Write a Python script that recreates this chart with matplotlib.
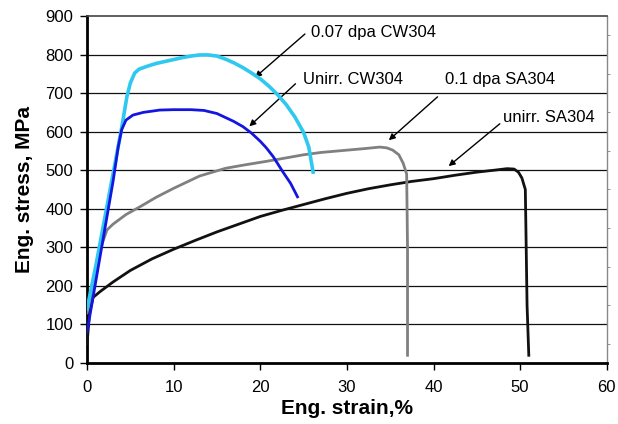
import matplotlib
matplotlib.use("Agg")
import matplotlib.pyplot as plt
from matplotlib.ticker import MultipleLocator

plt.rcParams['font.family'] = ['Liberation Sans', 'DejaVu Sans']

# 0.07 dpa CW304
cw_irr_x = [0.0, 1.0, 2.0, 3.0, 4.0, 4.6, 5.0, 5.5, 6.0, 7.0, 8.0, 9.0, 10.0, 11.0, 12.0, 13.0, 14.0, 15.0, 16.0, 17.0, 18.0, 19.0, 20.0, 21.0, 22.0, 23.0, 24.0, 25.0, 25.6, 26.1]
cw_irr_y = [140, 250, 370, 490, 610, 690, 726, 752, 762, 770, 777, 782, 787, 792, 796, 799, 799, 796, 788, 778, 766, 752, 737, 718, 696, 670, 638, 598, 560, 495]
# Unirr. CW304
cw_un_x = [0.0, 1.0, 2.0, 3.0, 3.6, 4.0, 4.5, 5.3, 6.5, 8.4, 10.0, 12.0, 13.5, 15.0, 16.9, 18.0, 19.0, 20.0, 20.7, 21.5, 22.6, 23.5, 24.3]
cw_un_y = [80, 210, 340, 470, 560, 605, 630, 643, 650, 656, 657, 657, 655, 647, 627, 613, 596, 575, 558, 535, 496, 466, 431]
# 0.1 dpa SA304
sa_irr_x = [0.0, 0.5, 1.0, 1.6, 2.3, 3.0, 4.5, 6.1, 8.0, 10.0, 13.0, 16.0, 18.0, 20.7, 23.0, 25.0, 27.0, 30.0, 32.0, 33.8, 34.6, 35.3, 36.0, 36.5, 36.9, 37.0, 37.0]
sa_irr_y = [130, 180, 240, 300, 345, 360, 385, 405, 430, 453, 485, 505, 513, 523, 532, 540, 546, 552, 556, 560, 558, 552, 540, 518, 490, 300, 20]
# unirr. SA304
sa_un_x = [0.0, 0.3, 0.7, 1.5, 3.0, 5.0, 7.5, 10.0, 12.5, 15.0, 17.5, 20.0, 22.5, 25.0, 27.5, 30.0, 32.5, 35.0, 37.5, 40.0, 42.5, 45.0, 47.0, 48.5, 49.3, 49.8, 50.2, 50.6, 50.7, 50.8, 51.0]
sa_un_y = [50, 130, 170, 185, 210, 240, 270, 295, 318, 340, 360, 380, 396, 411, 426, 440, 452, 462, 471, 478, 487, 495, 500, 504, 503, 495, 480, 450, 300, 150, 20]

labels = ['0.07 dpa CW304', 'Unirr. CW304', '0.1 dpa SA304', 'unirr. SA304']
text_pos = [(25.9, 856), (24.9, 734), (41.3, 734), (48.0, 638)]
arrow_tail = [(25.4, 858), (24.3, 729), (40.7, 695), (47.9, 625)]
arrow_head = [(19.15, 736), (18.5, 609), (34.6, 573), (41.5, 506)]

fig = plt.figure(figsize=(6.18, 4.24), dpi=100)
ax = fig.add_axes([0.1408, 0.1439, 0.841, 0.8184])

for y in range(100, 900, 100):
    ax.axhline(y, color='#111111', lw=0.9, zorder=1)

ax.plot(sa_un_x, sa_un_y, color='#111111', lw=2, zorder=3)
ax.plot(sa_irr_x, sa_irr_y, color='#808080', lw=2, zorder=3)
ax.plot(cw_irr_x, cw_irr_y, color='#2ec8f0', lw=2.6, zorder=4)
ax.plot(cw_un_x, cw_un_y, color='#1515e0', lw=2, zorder=5)

for lab, tp, tail, head in zip(labels, text_pos, arrow_tail, arrow_head):
    ax.annotate('', xy=head, xytext=tail,
                arrowprops=dict(arrowstyle='-|>', color='black', lw=1, mutation_scale=9))
    ax.text(tp[0], tp[1], lab, fontsize=12, va='center', ha='left')

ax.set_xlim(0, 60)
ax.set_ylim(0, 900)
ax.xaxis.set_major_locator(MultipleLocator(10))
ax.yaxis.set_major_locator(MultipleLocator(100))
ax.yaxis.set_minor_locator(MultipleLocator(50))
ax.tick_params(axis='both', which='major', labelsize=12, length=5, width=1, direction='out')
ax.tick_params(axis='y', which='major', pad=5)
ax.tick_params(axis='x', which='major', pad=7)
ax.tick_params(axis='y', which='minor', left=False, right=True, length=2, color='gray')

ax.spines['left'].set_linewidth(2)
ax.spines['bottom'].set_linewidth(2)
ax.spines['top'].set_linewidth(1.2)
ax.spines['top'].set_color('#444444')
ax.spines['right'].set_linewidth(1)
ax.spines['right'].set_color('#888888')

ax.set_xlabel('Eng. strain,%', fontsize=15, fontweight='bold', labelpad=3)
ax.set_ylabel('Eng. stress, MPa', fontsize=15, fontweight='bold', labelpad=8)

fig.savefig('out.png', dpi=100)
